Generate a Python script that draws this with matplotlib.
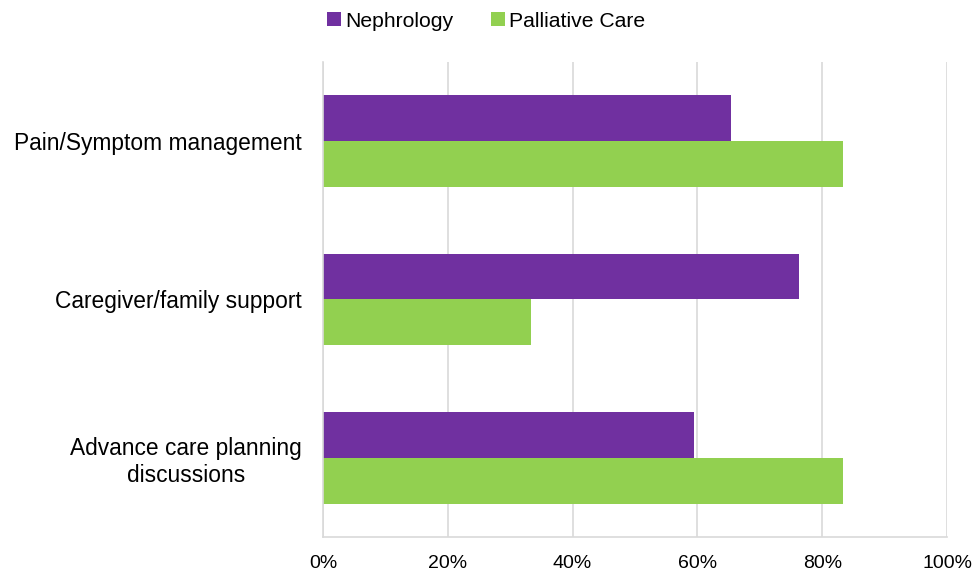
import numpy as np
import matplotlib
matplotlib.use("Agg")
import matplotlib.pyplot as plt

categories = ["Pain/Symptom management", "Caregiver/family support", "Advance care planning\ndiscussions"]
nephrology = [65.4, 76.2, 59.5]
palliative = [83.3, 33.3, 83.3]
x_ticks = [0, 20, 40, 60, 80, 100]

plt.rcParams["font.family"] = ["Liberation Sans", "DejaVu Sans"]

fig = plt.figure(figsize=(9.72, 5.72), dpi=100)
ax = fig.add_axes([0.3323, 0.0612, 0.642, 0.8304])

y = np.arange(len(categories))
h = 0.29
ax.barh(y - h / 2, nephrology, height=h, color="#7030A0", label="Nephrology")
ax.barh(y + h / 2, palliative, height=h, color="#92D050", label="Palliative Care")

ax.set_xlim(0, 100)
ax.set_ylim(2.5, -0.5)
ax.set_xticks(x_ticks)
ax.set_xticklabels([f"{t}%" for t in x_ticks], fontsize=14)
ax.set_yticks(y)
ax.set_yticklabels(categories, fontsize=16.4, multialignment="center")
ax.tick_params(axis="both", length=0)
ax.tick_params(axis="y", pad=15)
ax.tick_params(axis="x", pad=13)

ax.grid(axis="x", color="#d9d9d9", linewidth=1.2)
ax.set_axisbelow(True)
for side in ["top", "right"]:
    ax.spines[side].set_visible(False)
ax.spines["left"].set_color("#d9d9d9")
ax.spines["bottom"].set_color("#d9d9d9")
ax.spines["left"].set_linewidth(1.2)
ax.spines["bottom"].set_linewidth(1.2)

fig.legend(loc="upper center", bbox_to_anchor=(0.5, 1.013), ncol=2, frameon=False,
           fontsize=15.2, handlelength=0.65, handleheight=0.65, handletextpad=0.2,
           columnspacing=1.8)

fig.savefig("out.png", dpi=100)
